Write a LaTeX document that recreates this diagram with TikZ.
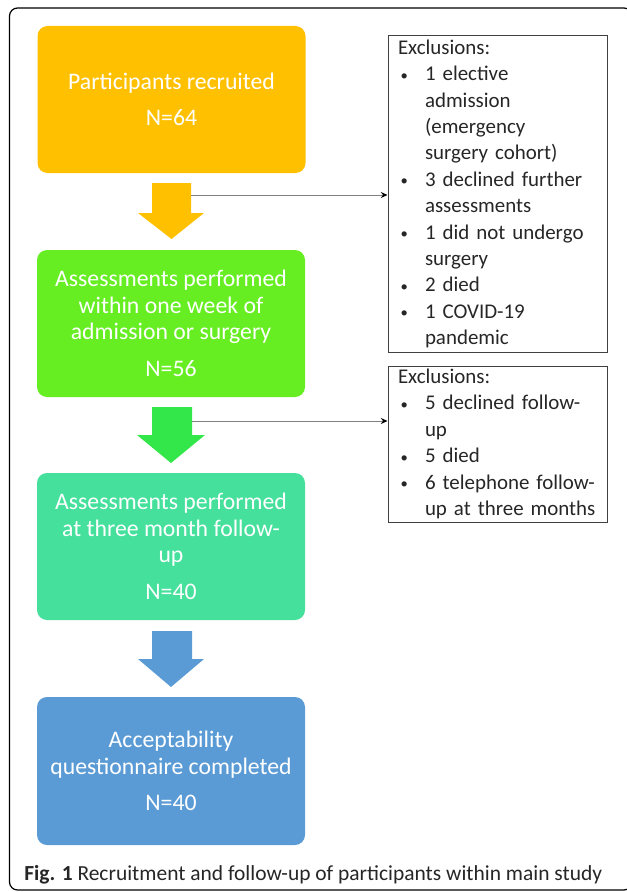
\documentclass[tikz,border=0pt]{standalone}
\usepackage{fontspec}
\setmainfont{Carlito}
\usetikzlibrary{arrows.meta}
\definecolor{cOrange}{HTML}{FFC000}
\definecolor{cGreen}{HTML}{66EE22}
\definecolor{cArrowGreen}{HTML}{33E64A}
\definecolor{cTeal}{HTML}{44E09C}
\definecolor{cBlue}{HTML}{5B9BD5}
\definecolor{cText}{HTML}{262626}
\newcommand\bitem[1]{\hspace*{2pt}\makebox[18.25pt][l]{\raisebox{0.5pt}{\scalebox{0.7}{\textbullet}}}\mbox{#1}}
\newcommand\bcont[1]{\hspace*{20.25pt}\mbox{#1}}
\tikzset{
  flowbox/.style={rectangle, rounded corners=7.5pt, minimum width=201pt, minimum height=110.25pt,
    text=white, align=center, font=\fontsize{17.8}{19.9}\selectfont, inner sep=0pt},
  exbox/.style={draw=black!75, line width=0.75pt, rectangle, align=left, text width=149.25pt,
    inner xsep=7.5pt, inner ysep=0pt, font=\fontsize{15.7}{19.8}\selectfont, text=cText},
  conn/.style={draw=black!50, line width=0.75pt, -{Stealth[length=5pt,width=4.5pt,color=black]}}
}
\hbadness=10000 \hfuzz=100pt
\begin{document}
\begin{tikzpicture}[x=0.75pt,y=-0.75pt]
\useasboundingbox (0,0) rectangle (627,892);
\clip (0,0) rectangle (627,892);
\draw[line width=0.9pt, rounded corners=6pt] (9.5,8) rectangle (632,890);

\node[flowbox, fill=cOrange] (b1) at (171.5,99.5) {Participants recruited\\[7.5pt]N=64};
\node[flowbox, fill=cGreen] (b2) at (171,323.5) {Assessments performed\\within one week of\\admission or surgery\\[7.5pt]N=56};
\node[flowbox, fill=cTeal] (b3) at (171,546.5) {Assessments performed\\at three month follow-\\up\\[7.5pt]N=40};
\node[flowbox, fill=cBlue, minimum height=111pt] (b4) at (171,771) {Acceptability\\questionnaire completed\\[7.5pt]N=40};

\fill[cOrange] (152,183) -- (191,183) -- (191,213) -- (204,213) -- (171.5,239) -- (138,213) -- (152,213) -- cycle;
\fill[cArrowGreen] (152,407) -- (192,407) -- (192,435) -- (205,435) -- (171,463) -- (137,435) -- (152,435) -- cycle;
\fill[cBlue] (152,631) -- (192,631) -- (192,659) -- (204,659) -- (171,687) -- (138,659) -- (152,659) -- cycle;

\coordinate (c1) at (191,195);
\coordinate (c2) at (192,421);

\node[exbox, minimum height=237pt] (exA) at (497.5,194) {Exclusions:\\
\bitem{1 elective}\\
\bcont{admission}\\
\bcont{(emergency}\\
\bcont{surgery cohort)}\\
\bitem{3 declined further}\\
\bcont{assessments}\\
\bitem{1 did not undergo}\\
\bcont{surgery}\\
\bitem{2 died}\\
\bitem{1 COVID-19}\\
\bcont{pandemic}};

\node[exbox, minimum height=117pt] (exB) at (497.5,444) {Exclusions:\\
\bitem{5 declined follow-}\\
\bcont{up}\\
\bitem{5 died}\\
\bitem{6 telephone follow-}\\
\bcont{up at three months}};

\draw[conn] (c1) -- (c1 -| exA.west);
\draw[conn] (c2) -- (c2 -| exB.west);

\node[anchor=west, inner sep=0pt, text=cText, font=\fontsize{16.1}{18}\selectfont] (cap) at (24,875)
  {\textbf{Fig. 1} Recruitment and follow-up of participants within main study};
\end{tikzpicture}
\end{document}
